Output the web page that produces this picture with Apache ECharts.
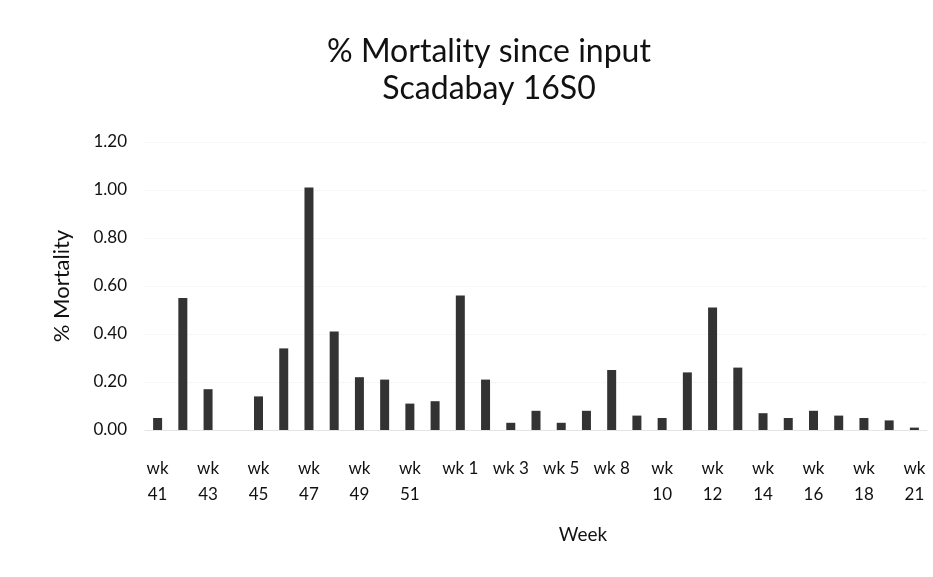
<!DOCTYPE html>
<html>
<head>
<meta charset="utf-8">
<script src="https://cdn.jsdelivr.net/npm/echarts@6/dist/echarts.min.js"></script>
<style>
html,body{margin:0;padding:0;background:#fff}
#chart{width:933px;height:577px}
</style>
</head>
<body>
<div id="chart"></div>
<script>
var weeks = ['wk 41','wk 42','wk 43','wk 44','wk 45','wk 46','wk 47','wk 48','wk 49','wk 50','wk 51','wk 52',
	'wk 1','wk 2','wk 3','wk 4','wk 5','wk 7','wk 8','wk 9','wk 10','wk 11','wk 12','wk 13','wk 14','wk 15',
	'wk 16','wk 17','wk 18','wk 20','wk 21'];
var mortality = [0.05,0.55,0.17,0,0.14,0.34,1.01,0.41,0.22,0.21,0.11,0.12,
	0.56,0.21,0.03,0.08,0.03,0.08,0.25,0.06,0.05,0.24,0.51,0.26,0.07,0.05,
	0.08,0.06,0.05,0.04,0.01];
var yTicks = [0, 0.2, 0.4, 0.6, 0.8, 1.0, 1.2];

var font = 'Lato, "Open Sans", sans-serif';
var myChart = echarts.init(document.getElementById('chart'));
myChart.setOption({
	animation: false,
	title: {
		text: '% Mortality since input\nScadabay 16S0',
		left: 484,
		top: 28,
		textAlign: 'center',
		textStyle: {fontFamily: font, fontSize: 32, fontWeight: 'normal', color: '#111', lineHeight: 37}
	},
	grid: {left: 145, right: 6, top: 142, bottom: 147},
	xAxis: {
		type: 'category',
		data: weeks,
		name: 'Week',
		nameLocation: 'middle',
		nameGap: 95,
		nameTextStyle: {fontFamily: font, fontSize: 19, color: '#111', padding: [0, 0, 0, 94]},
		axisLine: {lineStyle: {color: '#e4e4e4'}},
		axisTick: {show: false},
		axisLabel: {
			interval: 1,
			margin: 26,
			fontFamily: font,
			fontSize: 17,
			color: '#111',
			lineHeight: 26,
			formatter: function(v){
				var p = v.split(' ');
				return p[1].length > 1 ? p[0] + '\n' + p[1] : v;
			}
		}
	},
	yAxis: {
		type: 'value',
		min: yTicks[0],
		max: yTicks[yTicks.length - 1],
		interval: 0.2,
		name: '% Mortality',
		nameLocation: 'middle',
		nameGap: 72,
		nameTextStyle: {fontFamily: font, fontSize: 22, color: '#111'},
		axisLine: {show: false},
		axisTick: {show: false},
		splitLine: {lineStyle: {color: '#efefef', type: 'dotted'}},
		axisLabel: {
			margin: 18,
			fontFamily: font,
			fontSize: 17,
			color: '#111',
			formatter: function(v){ return v.toFixed(2); }
		}
	},
	series: [{
		type: 'bar',
		data: mortality,
		barWidth: 9,
		itemStyle: {color: '#333333'}
	}]
});
</script>
</body>
</html>
